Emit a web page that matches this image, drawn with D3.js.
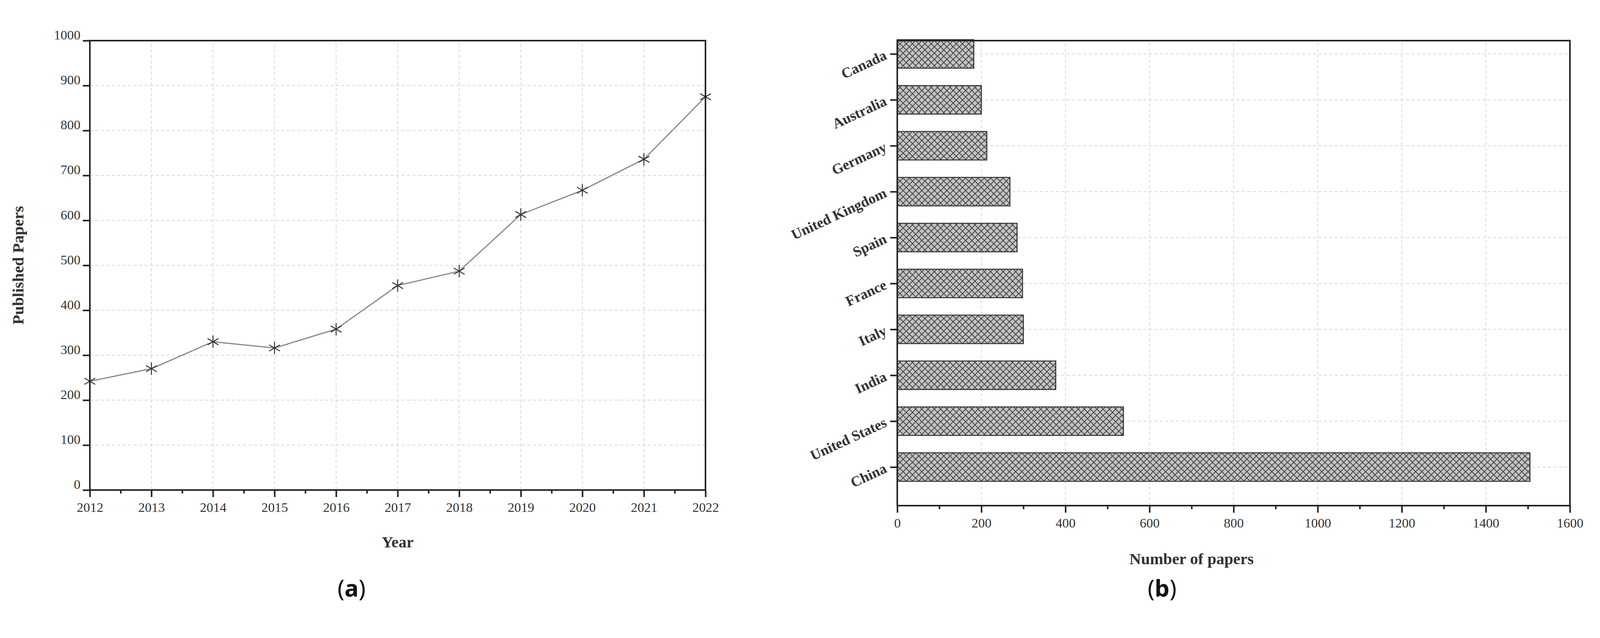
<!DOCTYPE html>
<html><head><meta charset="utf-8">
<script src="https://cdn.jsdelivr.net/npm/d3@7"></script>
<style>body{margin:0;background:#fff}svg{display:block}text{font-family:"Liberation Serif","DejaVu Serif",serif}</style>
</head><body>
<script>
// data
var years = [2012,2013,2014,2015,2016,2017,2018,2019,2020,2021,2022];
var papers = [242,270,330,316,358,455,487,613,667,736,875];
var countries = ["China","United States","India","Italy","France","Spain","United Kingdom","Germany","Australia","Canada"];
var countryPapers = [1505,538,377,300,298,285,268,213,200,182];

var W = 4192, H = 1634;
var svg = d3.select("body").append("svg").attr("width",W).attr("height",H);

var defs = svg.append("defs");
var pat = defs.append("pattern").attr("id","hatch").attr("patternUnits","userSpaceOnUse")
  .attr("width",16).attr("height",16);
pat.append("rect").attr("width",16).attr("height",16).attr("fill","#c4c4c4");
pat.append("path").attr("d","M0,0L16,16M16,0L0,16").attr("stroke","#444").attr("stroke-width",2);

function gridStyle(g){
  g.selectAll("line").attr("stroke","#d8d8d8").attr("stroke-width",2).attr("stroke-dasharray","8,6");
}

// ---------- (a) line chart ----------
var ax = d3.scaleLinear().domain([2012,2022]).range([230,1806]);
var ay = d3.scaleLinear().domain([0,1000]).range([1255,104]);
var ga = svg.append("g");

ga.append("g").call(g=>{
  g.selectAll("line.v").data(years.slice(1,-1)).enter().append("line")
    .attr("x1",d=>ax(d)).attr("x2",d=>ax(d)).attr("y1",ay(0)).attr("y2",ay(1000));
  g.selectAll("line.h").data(d3.range(100,1000,100)).enter().append("line")
    .attr("y1",d=>ay(d)).attr("y2",d=>ay(d)).attr("x1",ax(2012)).attr("x2",ax(2022));
  gridStyle(g);
});

ga.append("path").datum(years.map((y,i)=>[y,papers[i]]))
  .attr("d",d3.line().x(d=>ax(d[0])).y(d=>ay(d[1])))
  .attr("fill","none").attr("stroke","#888").attr("stroke-width",3);

// asterisk markers
ga.selectAll("g.pt").data(years).enter().append("g")
  .attr("transform",(d,i)=>"translate("+ax(d)+","+ay(papers[i])+")")
  .each(function(){
    var s=d3.select(this);
    [0,60,120].forEach(a=>s.append("line").attr("x1",0).attr("y1",-16).attr("x2",0).attr("y2",16)
      .attr("transform","rotate("+a+")").attr("stroke","#333").attr("stroke-width",2.5));
  });

ga.append("rect").attr("x",ax(2012)).attr("y",ay(1000)).attr("width",ax(2022)-ax(2012))
  .attr("height",ay(0)-ay(1000)).attr("fill","none").attr("stroke","#222").attr("stroke-width",4);

ga.append("g").attr("transform","translate(0,"+ay(0)+")")
  .call(d3.axisBottom(ax).tickValues(years).tickFormat(d3.format("d")).tickSize(18).tickPadding(14));
ga.append("g").attr("transform","translate(0,"+ay(0)+")")
  .call(d3.axisBottom(ax).tickValues(years.slice(0,-1).map(d=>d+0.5)).tickSize(9).tickFormat(""));
var yAxA = ga.append("g").attr("transform","translate("+ax(2012)+",0)")
  .call(d3.axisLeft(ay).tickValues(d3.range(0,1001,100)).tickFormat(d3.format("d")).tickSize(18).tickPadding(6));
ga.selectAll(".domain").remove();
ga.selectAll(".tick line").attr("stroke","#222").attr("stroke-width",4);
ga.selectAll(".tick text").attr("font-size",34).attr("fill","#333");
yAxA.selectAll(".tick text").attr("dy","-0.1em");

ga.append("text").attr("x",ax(2017)).attr("y",1402).attr("text-anchor","middle")
  .attr("font-size",41).attr("font-weight","bold").attr("fill","#333").text("Year");
ga.append("text").attr("transform","translate(60,"+ay(500)+") rotate(-90)").attr("text-anchor","middle")
  .attr("font-size",41).attr("font-weight","bold").attr("fill","#333").text("Published Papers");
ga.append("text").attr("x",900).attr("y",1528).attr("text-anchor","middle")
  .attr("font-size",60).attr("fill","#111").style("font-family","'Noto Sans',sans-serif")
  .html("(<tspan font-weight='bold'>a</tspan>)");

// ---------- (b) bar chart ----------
var bx = d3.scaleLinear().domain([0,1600]).range([2297,4019]);
var by = d3.scaleLinear().domain([-0.84,9.29]).range([1295,104]);
var gb = svg.append("g");
var bh = 73;

gb.append("g").call(g=>{
  g.selectAll("line.v").data(d3.range(200,1600,200)).enter().append("line")
    .attr("x1",d=>bx(d)).attr("x2",d=>bx(d)).attr("y1",by(-0.84)).attr("y2",by(9.29));
  g.selectAll("line.h").data(d3.range(10)).enter().append("line")
    .attr("y1",d=>by(d)).attr("y2",d=>by(d)).attr("x1",bx(0)).attr("x2",bx(1600));
  gridStyle(g);
});

gb.selectAll("rect.bar").data(countries).enter().append("rect")
  .attr("x",bx(0)).attr("y",(d,i)=>by(i)-bh/2).attr("width",(d,i)=>bx(countryPapers[i])-bx(0))
  .attr("height",bh).attr("fill","url(#hatch)").attr("stroke","#333").attr("stroke-width",2.5);

gb.append("rect").attr("x",bx(0)).attr("y",by(9.29)).attr("width",bx(1600)-bx(0))
  .attr("height",by(-0.84)-by(9.29)).attr("fill","none").attr("stroke","#222").attr("stroke-width",4);

gb.append("g").attr("transform","translate(0,"+by(-0.84)+")")
  .call(d3.axisBottom(bx).tickValues(d3.range(0,1601,200)).tickFormat(d3.format("d")).tickSize(18).tickPadding(14));
gb.append("g").attr("transform","translate(0,"+by(-0.84)+")")
  .call(d3.axisBottom(bx).tickValues(d3.range(100,1600,200)).tickSize(9).tickFormat(""));
var yAxB = gb.append("g").attr("transform","translate("+bx(0)+",0)")
  .call(d3.axisLeft(by).tickValues(d3.range(10)).tickFormat(i=>countries[i]).tickSize(18).tickPadding(12));
gb.selectAll(".domain").remove();
gb.selectAll(".tick line").attr("stroke","#222").attr("stroke-width",4);
gb.selectAll(".tick text").attr("font-size",34).attr("fill","#333");
yAxB.selectAll(".tick text").attr("font-size",37).attr("font-weight","bold")
  .attr("transform","translate(-30,0) rotate(-25)").attr("x",0).attr("dy","0.35em");

gb.append("text").attr("x",bx(700)).attr("y",1445).attr("text-anchor","middle")
  .attr("font-size",41).attr("font-weight","bold").attr("fill","#333").text("Number of papers");
gb.append("text").attr("x",2975).attr("y",1528).attr("text-anchor","middle")
  .attr("font-size",60).attr("fill","#111").style("font-family","'Noto Sans',sans-serif")
  .html("(<tspan font-weight='bold'>b</tspan>)");
</script>
</body></html>
